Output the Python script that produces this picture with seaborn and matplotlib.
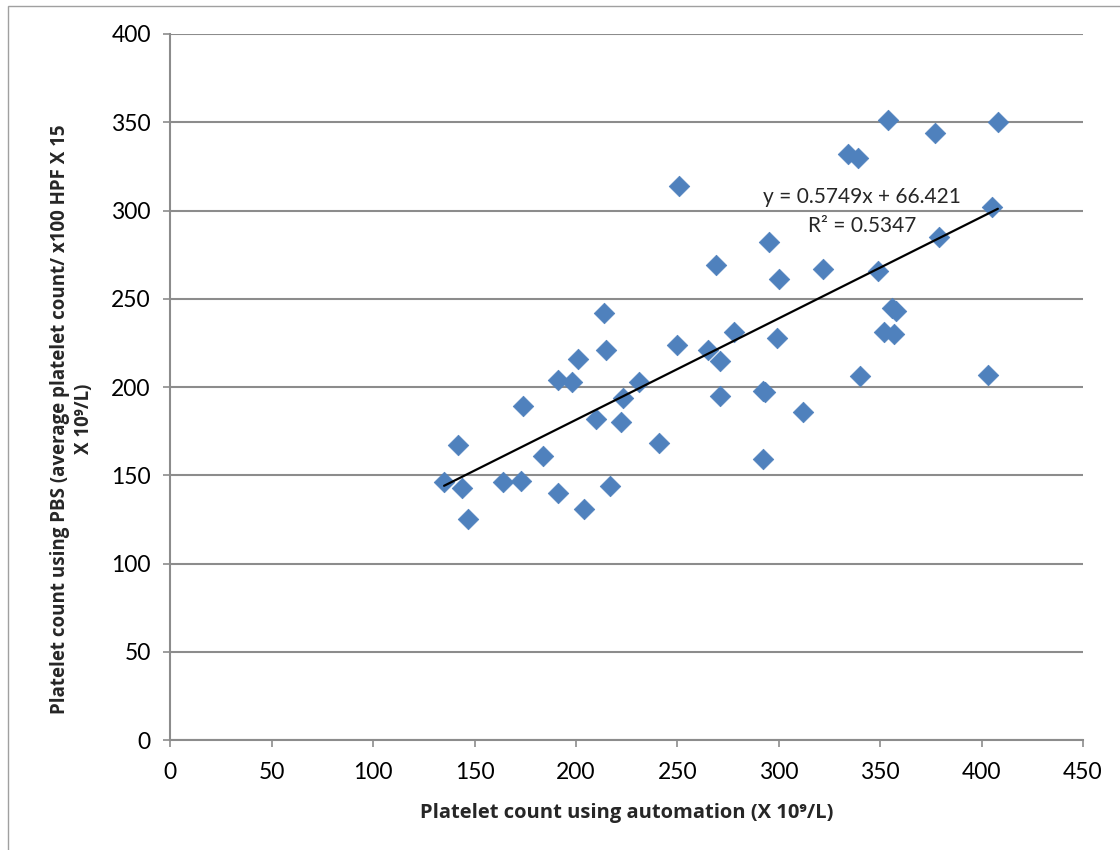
import numpy as np
import pandas as pd
import matplotlib
matplotlib.use("Agg")
import matplotlib.pyplot as plt
import seaborn as sns
from matplotlib.patches import Rectangle

# ---- data ----
auto_counts = [135, 142, 144, 147, 164, 173, 174, 184, 191, 191, 198, 201, 204, 210,
               214, 215, 217, 222, 223, 231, 241, 250, 251, 265, 269, 271, 271, 278,
               292, 292, 293, 295, 299, 300, 312, 322, 334, 339, 340, 349, 352, 354,
               356, 357, 358, 377, 379, 403, 405, 408]
pbs_counts = [146, 167, 143, 125, 146, 147, 189, 161, 140, 204, 203, 216, 131, 182,
              242, 221, 144, 180, 194, 203, 168, 224, 314, 221, 269, 215, 195, 231,
              159, 198, 197, 282, 228, 261, 186, 267, 332, 330, 206, 266, 231, 351,
              245, 230, 243, 344, 285, 207, 302, 350]
slope = 0.5749
intercept = 66.421
r_squared = 0.5347
x_ticks = [0, 50, 100, 150, 200, 250, 300, 350, 400, 450]
y_ticks = [0, 50, 100, 150, 200, 250, 300, 350, 400]

df = pd.DataFrame({"auto": auto_counts, "pbs": pbs_counts})

sns.set_theme(style="white")
plt.rcParams['font.family'] = ['Lato', 'DejaVu Sans']

fig = plt.figure(figsize=(11.2, 8.5), dpi=100)
ax = fig.add_axes([0.152, 0.1294, 0.815, 0.8306])

# outer frame
fig.patches.append(Rectangle((0.0075, -0.01), 1.2, 1.003, transform=fig.transFigure,
                             fill=False, edgecolor="#a0a0a0", linewidth=1.0))

ax.set_xlim(0, 450)
ax.set_ylim(0, 400)
ax.set_xticks(x_ticks)
ax.set_yticks(y_ticks)
ax.yaxis.grid(True, color="#8c8c8c", linewidth=1.5)
ax.xaxis.grid(False)
ax.set_axisbelow(True)

sns.scatterplot(data=df, x="auto", y="pbs", marker="D", s=110, color="#4F81BD",
                edgecolor="#4F81BD", linewidth=0.5, ax=ax, zorder=3)

xs = np.array([min(auto_counts), max(auto_counts)])
ax.plot(xs, slope * xs + intercept, color="black", linewidth=1.6, zorder=4)

ax.text(341, 307.5, f"y = {slope}x + {intercept}", ha="center", va="center", fontsize=15, zorder=5)
ax.text(341, 291, f"R² = {r_squared}", ha="center", va="center", fontsize=15, zorder=5)

for sp in ["top", "right"]:
    ax.spines[sp].set_visible(False)
for sp in ["left", "bottom"]:
    ax.spines[sp].set_color("#8c8c8c")
    ax.spines[sp].set_linewidth(1.5)

ax.tick_params(axis="both", which="major", direction="out", length=5, width=1.2,
               color="#8c8c8c", labelsize=16.5, labelcolor="black", bottom=True, left=True)
ax.tick_params(axis="x", pad=11)
ax.tick_params(axis="y", pad=9)

lab_font = ['Open Sans', 'DejaVu Sans']
ax.set_xlabel("Platelet count using automation (X 10⁹/L)", fontsize=14.5, fontweight="bold",
              family=lab_font, labelpad=14)
ax.set_ylabel("Platelet count using PBS (average platelet count/ x100 HPF X 15\nX 10⁹/L)",
              fontsize=13.5, fontweight="bold", family=lab_font, linespacing=1.25)
ax.yaxis.set_label_coords(-0.084, 0.455)

fig.savefig("out.png", dpi=100)
